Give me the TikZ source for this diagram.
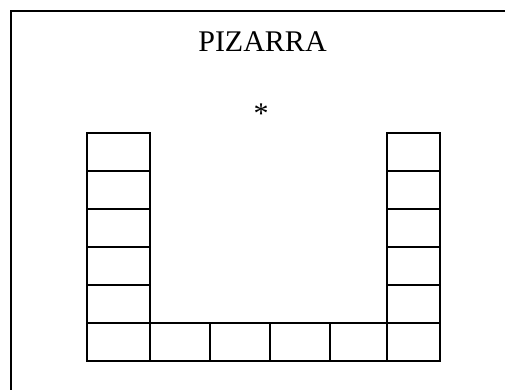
\documentclass[tikz,border=0pt]{standalone}
\usepackage{fontspec}
\setmainfont{Liberation Serif}
\tikzset{
  desk/.style={draw=black, line width=2pt},
  wall/.style={draw=black, line width=1.8pt},
  bigtext/.style={anchor=base, inner sep=0pt, font=\fontsize{30}{36}\selectfont}
}
\begin{document}
\begin{tikzpicture}[x=1pt,y=-1pt]
  \useasboundingbox (0,0) rectangle (505,390);
  % walls of the room
  \draw[wall] (505,11) -- (11,11) -- (11,390);

  % board and teacher
  \node[bigtext] (pizarra) at (262.5,51.7) {PIZARRA};
  \node[bigtext] (profesor) at (261,124) {*};

  % left column of desks
  \foreach \y in {133,171,209,247,285,323}
    \draw[desk] (87,\y) rectangle (150,\y+38);

  % bottom row
  \foreach \a/\b in {150/210,210/270,270/330,330/387}
    \draw[desk] (\a,323) rectangle (\b,361);

  % right column of desks
  \foreach \y in {133,171,209,247,285,323}
    \draw[desk] (387,\y) rectangle (440,\y+38);
\end{tikzpicture}
\end{document}
